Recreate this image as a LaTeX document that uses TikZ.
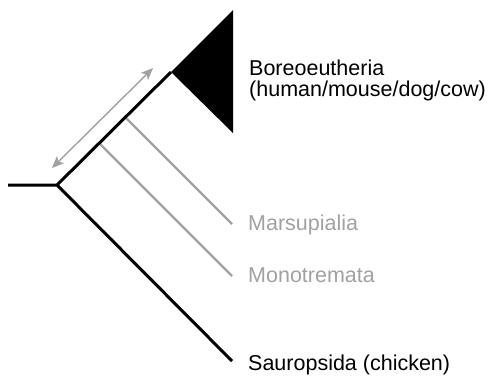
\documentclass[tikz,border=0pt]{standalone}
\usepackage{fontspec}
\setmainfont{Liberation Sans}
\usetikzlibrary{arrows.meta}

\begin{document}
\begin{tikzpicture}[x=1pt, y=-1pt, >={Stealth[length=12pt, width=10pt, inset=3pt]}]
            \useasboundingbox (0,0) rectangle (491,376);
            \tikzset{
                taxon/.style={anchor=base west, inner sep=0pt, font=\fontsize{21.5}{22}\selectfont},
                graytaxon/.style={taxon, text=lightgray},
            }
            \colorlet{lightgray}{black!37}

            % Tree points
            \coordinate (start) at (8, 185);
            \coordinate (root) at (57, 185);
            \coordinate (clade) at (171, 72);
            \coordinate (Bt) at (233, 10);
            \coordinate (Bb) at (233, 133);
            \coordinate (Ma) at (125, 117);
            \coordinate (Mo) at (99, 143);
            \coordinate (MaEnd) at (232, 224);
            \coordinate (MoEnd) at (232, 276);
            \coordinate (SaEnd) at (232, 361);

            % Gray branches
            \draw[line width=2.2pt, lightgray] (Ma) -- (MaEnd);
            \draw[line width=2.2pt, lightgray] (Mo) -- (MoEnd);

            % Black branches
            \draw[line width=3pt, line join=miter] (start) -- (root) -- (clade);
            \draw[line width=3pt] (root) -- (SaEnd);
            \fill (clade) -- (Bt) -- (Bb) -- cycle;

            % Double arrow along the stem
            \coordinate (A1) at (52, 168);
            \coordinate (A2) at (153, 68);
            \draw[<->, line width=1.4pt, lightgray] (A1) -- (A2);

            % Labels
            \node[taxon] (boreo) at (249, 75) {Boreoeutheria};
            \node[taxon] (boreo2) at (249, 96) {(human/mouse/dog/cow)};
            \node[graytaxon] (marsu) at (248, 230) {Marsupialia};
            \node[graytaxon] (mono) at (248, 282) {Monotremata};
            \node[taxon] (sauro) at (248, 370) {Sauropsida (chicken)};
        \end{tikzpicture}
\end{document}
